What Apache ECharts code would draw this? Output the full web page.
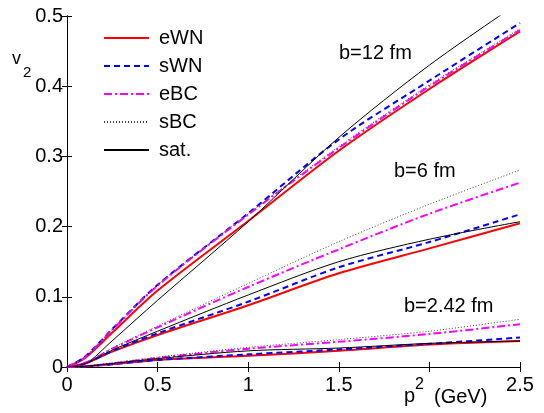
<!DOCTYPE html>
<html>
<head>
<meta charset="utf-8">
<script src="https://cdn.jsdelivr.net/npm/echarts@6/dist/echarts.min.js"></script>
<style>html,body{margin:0;padding:0;background:#fff}#c{width:544px;height:413px}</style>
</head>
<body>
<div id="c"></div>
<script>
// x values (pT, GeV)
var xs = [0, 0.1, 0.25, 0.5, 1, 1.5, 2, 2.5];
// b = 12 fm
var eWN12 = [0, 0.013, 0.049, 0.109, 0.208, 0.308, 0.396, 0.478];
var sWN12 = [0, 0.015, 0.054, 0.117, 0.219, 0.324, 0.408, 0.490];
var eBC12 = [0, 0.014, 0.053, 0.116, 0.217, 0.312, 0.400, 0.480];
var sBC12 = [0, 0.014, 0.053, 0.117, 0.218, 0.314, 0.402, 0.482];
var sat12 = [0, 0.004, 0.0375, 0.095, 0.207, 0.327, 0.430, 0.520];
// b = 6 fm
var eWN6 = [0, 0.005, 0.022, 0.0456, 0.088, 0.1335, 0.169, 0.2047];
var sWN6 = [0, 0.005, 0.023, 0.048, 0.093, 0.142, 0.178, 0.2175];
var eBC6 = [0, 0.006, 0.026, 0.0565, 0.114, 0.1676, 0.2184, 0.2626];
var sBC6 = [0, 0.006, 0.027, 0.0584, 0.119, 0.1785, 0.2318, 0.2806];
var sat6 = [0, 0.005, 0.024, 0.051, 0.1026, 0.150, 0.182, 0.207];
// b = 2.42 fm
var eWN2 = [0, 0.001, 0.004, 0.010, 0.016, 0.023, 0.032, 0.037];
var sWN2 = [0, 0.001, 0.004, 0.010, 0.018, 0.025, 0.033, 0.042];
var eBC2 = [0, 0.001, 0.005, 0.013, 0.026, 0.036, 0.047, 0.061];
var sBC2 = [0, 0.001, 0.006, 0.014, 0.028, 0.039, 0.051, 0.068];
var sat2 = [0, 0.001, 0.005, 0.012, 0.023, 0.027, 0.0337, 0.037];

var names = ['eWN', 'sWN', 'eBC', 'sBC', 'sat.'];
// the "2" tick label is hidden behind the axis title in the original
var xTicks = ['0', '0.5', '1', '1.5', '', '2.5'];
var yTicks = ['0', '0.1', '0.2', '0.3', '0.4', '0.5'];
var annotations = ['b=12 fm', 'b=6 fm', 'b=2.42 fm'];

var styles = {
  'eWN': {color: '#ff0000', width: 2, type: 'solid'},
  'sWN': {color: '#0000ff', width: 2, type: [6, 4]},
  'eBC': {color: '#ff00ff', width: 2, type: [8, 3, 2, 3]},
  'sBC': {color: '#444444', width: 1, type: [1, 2]},
  'sat.': {color: '#000000', width: 1, type: 'solid'}
};
var groups = [
  [eWN12, sWN12, eBC12, sBC12, sat12],
  [eWN6, sWN6, eBC6, sBC6, sat6],
  [eWN2, sWN2, eBC2, sBC2, sat2]
];
function pairs(ys) { return xs.map(function (x, i) { return [x, ys[i]]; }); }

var series = [];
groups.forEach(function (g) {
  g.forEach(function (ys, k) {
    var st = styles[names[k]];
    series.push({
      name: names[k], type: 'line', data: pairs(ys), symbol: 'none',
      smooth: 0.3, clip: true,
      lineStyle: {color: st.color, width: st.width, type: st.type},
      itemStyle: {color: st.color}, emphasis: {disabled: true}
    });
  });
});

var FONT = 'Liberation Sans, Arial, Helvetica, sans-serif';
var chart = echarts.init(document.getElementById('c'), null, {renderer: 'canvas'});
var axisCommon = {
  axisLine: {show: true, lineStyle: {color: '#000', width: 1}},
  axisTick: {show: true, inside: true, length: 5, lineStyle: {color: '#000'}},
  splitLine: {show: false}
};
chart.setOption({
  animation: false,
  backgroundColor: '#fff',
  grid: {left: 67, right: 24, top: 16, bottom: 46, containLabel: false},
  legend: {
    data: names, orient: 'vertical', left: 103, top: 28, padding: 0,
    itemWidth: 45, itemHeight: 14, itemGap: 8,
    itemStyle: {opacity: 0},
    textStyle: {fontFamily: FONT, fontSize: 20, color: '#000', lineHeight: 20, padding: [0, 0, 0, 5]},
    selectedMode: false
  },
  xAxis: [
    Object.assign({type: 'value', min: 0, max: 2.5, interval: 0.5, position: 'bottom',
      axisLabel: {fontFamily: FONT, fontSize: 20, color: '#000', margin: 8,
        formatter: function (v) { return xTicks[Math.round(v / 0.5)]; }}}, axisCommon),
    Object.assign({type: 'value', min: 0, max: 2.5, interval: 0.5, position: 'top',
      axisLabel: {show: false}}, axisCommon)
  ],
  yAxis: [
    Object.assign({type: 'value', min: 0, max: 0.5, interval: 0.1, position: 'left',
      axisLabel: {fontFamily: FONT, fontSize: 20, color: '#000', margin: 4,
        formatter: function (v) { return yTicks[Math.round(v / 0.1)]; }}}, axisCommon),
    Object.assign({type: 'value', min: 0, max: 0.5, interval: 0.1, position: 'right',
      axisLabel: {show: false}}, axisCommon)
  ],
  series: series,
  graphic: [
    {type: 'text', left: 339, top: 43, style: {text: annotations[0], font: '20px ' + FONT, fill: '#000'}},
    {type: 'text', left: 394, top: 161, style: {text: annotations[1], font: '20px ' + FONT, fill: '#000'}},
    {type: 'text', left: 404, top: 296, style: {text: annotations[2], font: '20px ' + FONT, fill: '#000'}},
    {type: 'text', left: 12, top: 50, style: {text: 'v', font: '18px ' + FONT, fill: '#000'}},
    {type: 'text', left: 23, top: 65, style: {text: '2', font: '15px ' + FONT, fill: '#000'}},
    {type: 'text', left: 404, top: 386, style: {text: 'p', font: '20px ' + FONT, fill: '#000'}},
    {type: 'text', left: 415, top: 377, style: {text: '2', font: '16px ' + FONT, fill: '#000'}},
    {type: 'text', left: 434, top: 387, style: {text: '(GeV)', font: '20px ' + FONT, fill: '#000'}}
  ]
});
</script>
</body>
</html>
